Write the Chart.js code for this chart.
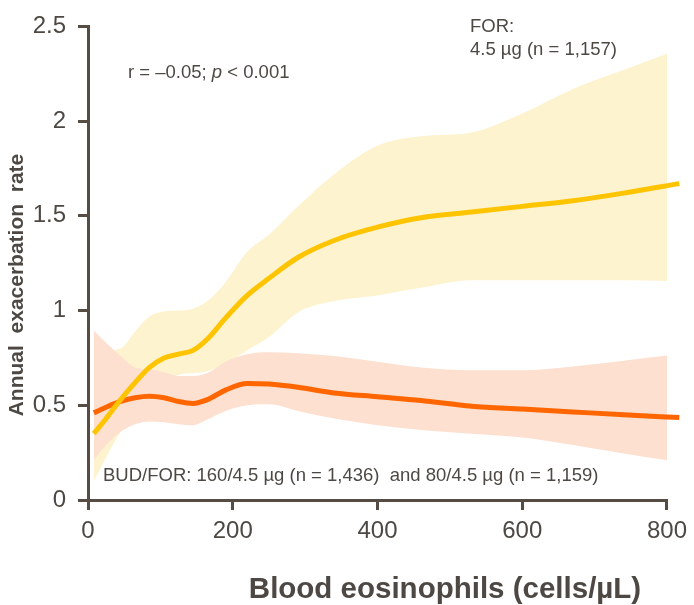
<!DOCTYPE html>
<html>
<head>
<meta charset="utf-8">
<script src="https://cdn.jsdelivr.net/npm/chart.js@4.4.1/dist/chart.umd.min.js"></script>
<style>
  body { margin: 0; background: #fff; }
  #wrap { width: 694px; height: 605px; }
</style>
</head>
<body>
<div id="wrap"><canvas id="chart" width="694" height="605"></canvas></div>
<script>
// blood eosinophils (cells/uL) sampled along the curves
const eos = [8, 25, 45, 65, 85, 105, 125, 145, 165, 190, 220, 250, 290, 340, 400, 460, 530, 600, 670, 740, 817];

// FOR 4.5 ug
const forMean  = [0.35, 0.43, 0.53, 0.62, 0.70, 0.75, 0.77, 0.79, 0.85, 0.96, 1.08, 1.17, 1.28, 1.37, 1.44, 1.49, 1.52, 1.55, 1.58, 1.62, 1.67];
const forUpper = [0.80, 0.79, 0.80, 0.89, 0.97, 0.995, 1.0, 1.01, 1.05, 1.15, 1.31, 1.40, 1.55, 1.72, 1.87, 1.92, 1.94, 2.04, 2.17, 2.27, 2.38];
const forLower = [0.10, 0.225, 0.36, 0.46, 0.55, 0.62, 0.66, 0.67, 0.68, 0.72, 0.79, 0.86, 0.99, 1.05, 1.08, 1.12, 1.16, 1.16, 1.16, 1.16, 1.155];

// BUD/FOR 160/4.5 and 80/4.5 ug
const budMean  = [0.46, 0.49, 0.52, 0.54, 0.548, 0.54, 0.52, 0.51, 0.53, 0.58, 0.615, 0.612, 0.595, 0.565, 0.545, 0.525, 0.495, 0.48, 0.465, 0.45, 0.435];
const budUpper = [0.895, 0.83, 0.76, 0.70, 0.69, 0.675, 0.655, 0.655, 0.67, 0.73, 0.77, 0.78, 0.775, 0.76, 0.73, 0.70, 0.685, 0.685, 0.705, 0.735, 0.77];
const budLower = [0.21, 0.29, 0.36, 0.40, 0.415, 0.41, 0.40, 0.395, 0.425, 0.47, 0.50, 0.505, 0.47, 0.43, 0.395, 0.37, 0.35, 0.33, 0.29, 0.245, 0.20];

const xTicks = [0, 200, 400, 600, 800];
const yTicks = [0, 0.5, 1, 1.5, 2, 2.5];

const AXIS = '#554d44';
const TEXT = '#4d4843';
const FONT = '"Liberation Sans", Arial, sans-serif';

const pts = (ys) => ys.map((y, i) => ({ x: eos[i], y }));

const line = (data, color) => ({
  data: pts(data),
  borderColor: color,
  borderWidth: 5,
  pointRadius: 0,
  fill: false,
  cubicInterpolationMode: 'monotone',
  clip: false
});

const band = (data, fill, bg) => ({
  data: pts(data),
  borderWidth: 0,
  borderColor: 'transparent',
  backgroundColor: bg,
  pointRadius: 0,
  fill: fill,
  cubicInterpolationMode: 'monotone',
  clip: false
});

// annotations and axis titles
const labels = {
  id: 'labels',
  afterDraw(chart) {
    const ctx = chart.ctx;
    ctx.save();
    ctx.fillStyle = TEXT;
    ctx.textBaseline = 'alphabetic';
    ctx.textAlign = 'left';

    // r / p statement, p in italics
    let x = 128;
    const parts = [['r = \u20130.05; ', ''], ['p', 'italic '], [' < 0.001', '']];
    parts.forEach(([t, style]) => {
      ctx.font = style + '18.5px ' + FONT;
      ctx.fillText(t, x, 78);
      x += ctx.measureText(t).width;
    });

    ctx.font = '18.5px ' + FONT;
    ctx.fillText('FOR:', 470, 32);
    ctx.fillText('4.5 \u00b5g (n = 1,157)', 470, 55);
    ctx.fillText('BUD/FOR: 160/4.5 \u00b5g (n = 1,436)  and 80/4.5 \u00b5g (n = 1,159)', 103, 481);

    // y title
    ctx.save();
    ctx.translate(17, 285);
    ctx.rotate(-Math.PI / 2);
    ctx.textAlign = 'center';
    ctx.textBaseline = 'middle';
    ctx.font = 'bold 21px ' + FONT;
    ctx.fillText('Annual  exacerbation  rate', 0, 0);
    ctx.restore();

    // x title
    ctx.textAlign = 'center';
    ctx.font = 'bold 29.5px ' + FONT;
    ctx.fillText('Blood eosinophils (cells/\u00b5L)', 445, 598);
    ctx.restore();
  }
};

new Chart(document.getElementById('chart'), {
  type: 'line',
  data: {
    datasets: [
      line(forMean, '#ffc400'),
      line(budMean, '#ff6600'),
      band(budUpper, '+1', '#fde0cf'),
      band(budLower, false, '#fde0cf'),
      band(forUpper, '+1', '#fef3cf'),
      band(forLower, false, '#fef3cf')
    ]
  },
  options: {
    responsive: false,
    animation: false,
    events: [],
    layout: { padding: { left: 0, top: 20, right: 24, bottom: 0 } },
    plugins: {
      legend: { display: false },
      tooltip: { enabled: false },
      filler: { propagate: false }
    },
    scales: {
      x: {
        type: 'linear',
        min: 0,
        max: 800,
        afterBuildTicks: (s) => { s.ticks = xTicks.map(v => ({ value: v })); },
        afterFit: (s) => { s.height = 105; },
        ticks: {
          color: TEXT,
          font: { family: FONT, size: 24 },
          padding: 7,
          maxRotation: 0
        },
        grid: {
          drawOnChartArea: false,
          color: AXIS,
          lineWidth: 3,
          tickLength: 10
        },
        border: { color: AXIS, width: 3 }
      },
      y: {
        min: 0,
        max: 2.5,
        afterBuildTicks: (s) => { s.ticks = yTicks.map(v => ({ value: v })); },
        afterFit: (s) => { s.width = 88; },
        ticks: {
          color: TEXT,
          font: { family: FONT, size: 24 },
          padding: 12,
          callback: (v) => String(v)
        },
        grid: {
          drawOnChartArea: false,
          color: AXIS,
          lineWidth: 3,
          tickLength: 10
        },
        border: { color: AXIS, width: 3 }
      }
    }
  },
  plugins: [labels]
});
</script>
</body>
</html>
